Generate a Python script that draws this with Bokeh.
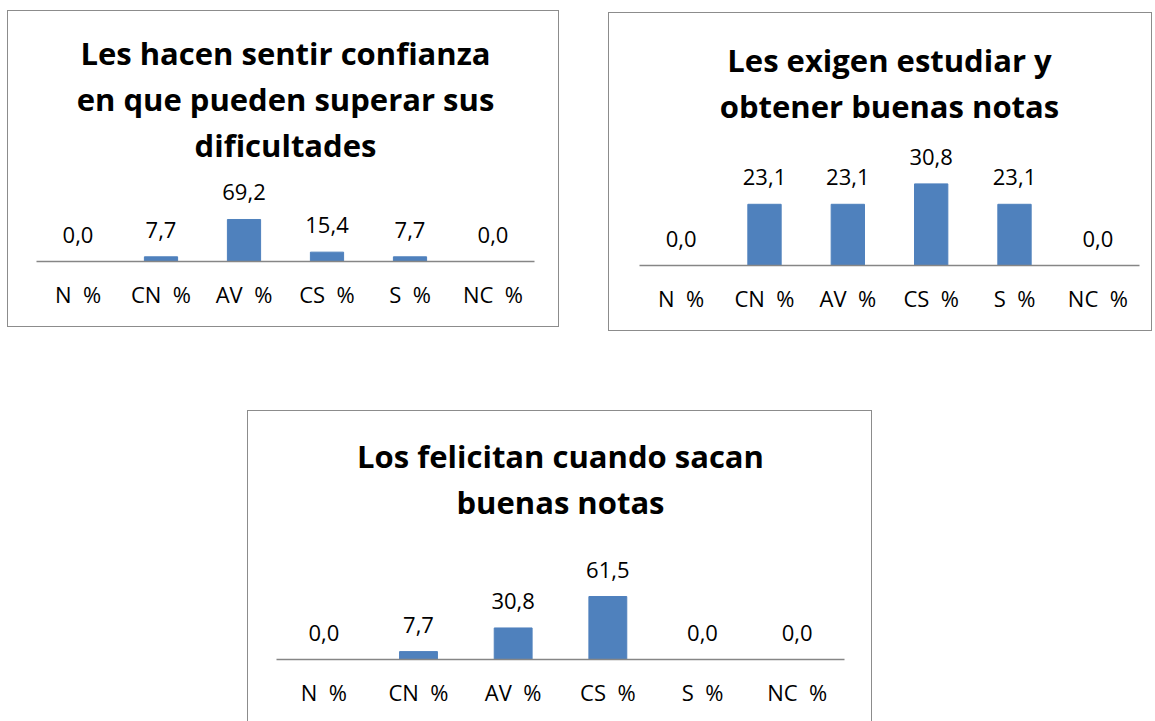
from bokeh.plotting import figure
from bokeh.models import ColumnDataSource, LabelSet, FactorRange, Range1d, Spacer, Title
from bokeh.layouts import row, column
from bokeh.core.properties import value
from bokeh.embed import file_html
from bokeh.resources import INLINE

NB = "\u00a0"
categories = ["N " + NB + "%", "CN " + NB + "%", "AV " + NB + "%",
              "CS " + NB + "%", "S " + NB + "%", "NC " + NB + "%"]

title_confianza = ["Les hacen sentir confianza", "en que pueden superar sus", "dificultades"]
values_confianza = [0.0, 7.7, 69.2, 15.4, 7.7, 0.0]

title_exigen = ["Les exigen estudiar y", "obtener buenas notas"]
values_exigen = [0.0, 23.1, 23.1, 30.8, 23.1, 0.0]

title_felicitan = ["Los felicitan cuando sacan", "buenas notas"]
values_felicitan = [0.0, 7.7, 30.8, 61.5, 0.0, 0.0]

FONT = "Open Sans"
BAR = "#4F81BD"
AXIS = "#868686"
BORDER = "#8c8c8c"


def fmt(v):
    return f"{v:.1f}".replace(".", ",")


def make_chart(title_lines, values, width, height, mbl, mbr, mbt, mbb, px_per_unit,
               border_css):
    frame_h = height - mbt - mbb
    p = figure(
        x_range=FactorRange(*categories),
        y_range=Range1d(0, frame_h / px_per_unit),
        width=width, height=height,
        output_backend="svg", toolbar_location=None,
        y_axis_location=None,
        min_border_left=mbl, min_border_right=mbr,
        min_border_top=mbt, min_border_bottom=mbb,
    )
    p.title.text = ""
    p.title.standoff = 0
    # lines stacked upward from the plot frame; alternating standoffs give 45px line pitch
    for i, line in enumerate(reversed(title_lines)):
        p.add_layout(Title(text=line, text_font=FONT, text_font_size="31px",
                           text_font_style="bold", text_color="#000000",
                           align="center", standoff=12 if i % 2 == 0 else -8), "above")
    p.xgrid.visible = False
    p.ygrid.visible = False
    p.outline_line_color = None
    p.background_fill_color = "white"
    p.border_fill_color = "white"
    ax = p.xaxis[0]
    ax.axis_line_color = AXIS
    ax.axis_line_width = 1.3
    ax.major_tick_line_color = None
    ax.minor_tick_line_color = None
    ax.major_label_text_font = FONT
    ax.major_label_text_font_size = "22px"
    ax.major_label_text_color = "#000000"
    ax.major_label_standoff = 11
    src = ColumnDataSource(dict(cat=categories, val=values, lab=[fmt(v) for v in values]))
    p.vbar(x="cat", top="val", width=0.4, source=src, fill_color=BAR, line_color=BAR)
    p.add_layout(LabelSet(x="cat", y="val", text="lab", source=src,
                          text_align="center", text_baseline="alphabetic",
                          y_offset=19, text_font=value(FONT), text_font_size=value("22px"),
                          text_color="#000000"))
    p.styles = border_css
    return p


full_border = {"border": f"1.5px solid {BORDER}", "box-sizing": "border-box"}
open_bottom = {"border": f"1.5px solid {BORDER}", "border-bottom": "none",
               "box-sizing": "border-box"}

p1 = make_chart(title_confianza, values_confianza, 552, 317, 28, 26, 160, 67, 0.607, full_border)
p2 = make_chart(title_exigen, values_exigen, 544, 319, 30, 14, 119, 67, 2.65, full_border)
p3 = make_chart(title_felicitan, values_felicitan, 625, 311, 28, 29, 117, 63, 1.024, open_bottom)

top = row(Spacer(width=7), column(Spacer(height=10), p1), Spacer(width=49),
          column(Spacer(height=12), p2))
bottom = row(Spacer(width=247), p3)
layout = column(top, Spacer(height=79), bottom)

open("out.html", "w").write(file_html(layout, INLINE))
